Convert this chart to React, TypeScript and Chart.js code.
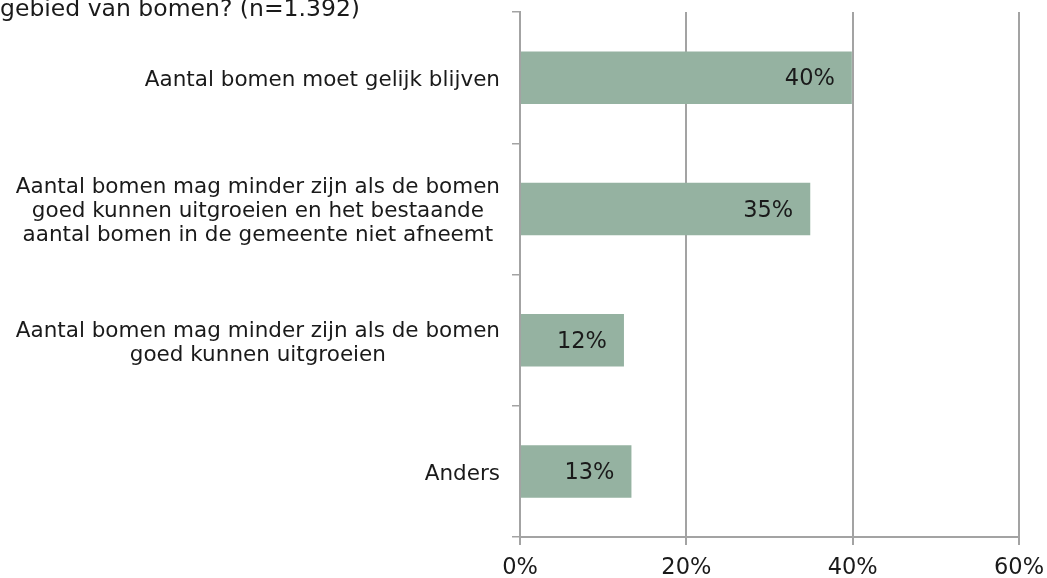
import React, { useEffect, useRef } from "react";
import { Chart, registerables } from "chart.js";

Chart.register(...registerables);

const titleText = "gebied van bomen? (n=1.392)";
const categories: string[][] = [
  ["Aantal bomen moet gelijk blijven"],
  [
    "Aantal bomen mag minder zijn als de bomen",
    "goed kunnen uitgroeien en het bestaande",
    "aantal bomen in de gemeente niet afneemt",
  ],
  ["Aantal bomen mag minder zijn als de bomen", "goed kunnen uitgroeien"],
  ["Anders"],
];
const values = [39.9, 34.9, 12.5, 13.4];
const valueLabels = ["40%", "35%", "12%", "13%"];
const xTicks = [0, 20, 40, 60];

const FONT = "DejaVu Sans";
const FS_CAT = 21.5;
const FS_NUM = 22.5;
const FS_TITLE = 23.5;

const overlayPlugin = {
  id: "overlay",
  afterDraw(chart: any) {
    const ctx = chart.ctx;
    const yScale = chart.scales.y;
    const xScale = chart.scales.x;
    ctx.save();
    ctx.fillStyle = "#1a1a1a";
    // title fragment
    ctx.font = `${FS_TITLE}px "${FONT}"`;
    ctx.textAlign = "left";
    ctx.textBaseline = "alphabetic";
    ctx.fillText(titleText, 0, 16);
    // category labels: block right-aligned, lines centered
    ctx.font = `${FS_CAT}px "${FONT}"`;
    const lineH = 24;
    ctx.textBaseline = "middle";
    ctx.textAlign = "center";
    categories.forEach((lines, i) => {
      const cy = yScale.getPixelForValue(i) + 3;
      const maxW = Math.max(...lines.map((l) => ctx.measureText(l).width));
      const cx = 500 - maxW / 2;
      const startY = cy - ((lines.length - 1) * lineH) / 2;
      lines.forEach((l, j) => ctx.fillText(l, cx, startY + j * lineH));
    });
    // value labels inside bar end
    ctx.font = `${FS_NUM}px "${FONT}"`;
    ctx.textAlign = "right";
    values.forEach((v, i) => {
      const x = xScale.getPixelForValue(v) - 17;
      const y = yScale.getPixelForValue(i) + 2;
      ctx.fillText(valueLabels[i], x, y);
    });
    ctx.restore();
  },
};

export default function App() {
  const ref = useRef<HTMLCanvasElement>(null);
  useEffect(() => {
    document.body.style.margin = "0";
    const chart = new Chart(ref.current!, {
      type: "bar",
      data: {
        labels: categories.map((c) => c.join(" ")),
        datasets: [
          {
            data: values,
            backgroundColor: "#95b2a1",
            borderWidth: 0,
            categoryPercentage: 1,
            barPercentage: 0.4,
          },
        ],
      },
      options: {
        indexAxis: "y",
        animation: false,
        responsive: false,
        maintainAspectRatio: false,
        layout: { padding: { top: 12, right: 28, left: 0, bottom: 0 } },
        plugins: { legend: { display: false }, tooltip: { enabled: false }, title: { display: false } },
        scales: {
          x: {
            min: 0,
            max: 60,
            afterBuildTicks: (scale: any) => {
              scale.ticks = xTicks.map((v) => ({ value: v }));
            },
            afterFit: (scale: any) => {
              scale.height = 41;
              scale.paddingLeft = 0;
              scale.paddingRight = 0;
            },
            ticks: {
              callback: (v: any) => `${v}%`,
              font: { family: FONT, size: FS_NUM },
              color: "#1a1a1a",
              padding: 10,
              maxRotation: 0,
            },
            grid: { color: "#a3a3a3", lineWidth: 2, tickLength: 8 },
            border: { color: "#a3a3a3", width: 2 },
          },
          y: {
            afterFit: (scale: any) => {
              scale.width = 520;
              scale.paddingTop = 0;
              scale.paddingBottom = 0;
            },
            ticks: { display: false },
            grid: { drawOnChartArea: false, color: "#a3a3a3", lineWidth: 1.5, tickLength: 8, offset: true },
            border: { color: "#a3a3a3", width: 2 },
          },
        },
      },
      plugins: [overlayPlugin],
    } as any);
    return () => chart.destroy();
  }, []);
  return (
    <div style={{ width: 1047, height: 578, position: "relative" }}>
      <canvas ref={ref} width={1047} height={578} style={{ width: 1047, height: 578 }} />
    </div>
  );
}
